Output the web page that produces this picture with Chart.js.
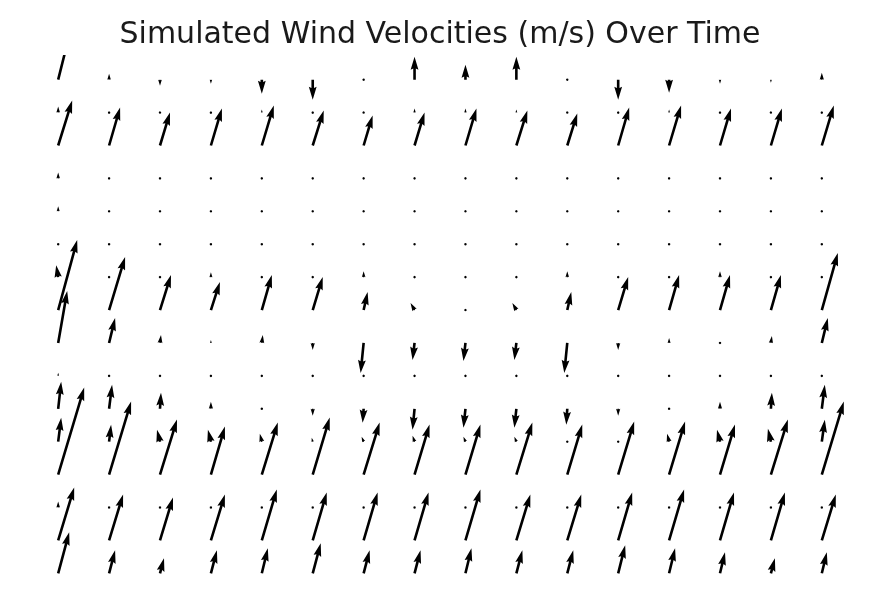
<!DOCTYPE html>
<html>
<head>
<meta charset="utf-8">
<title>Simulated Wind Velocities</title>
<script src="https://cdn.jsdelivr.net/npm/chart.js@4.4.1/dist/chart.umd.min.js"></script>
<style>
  html, body { margin: 0; padding: 0; background: #fff; }
</style>
</head>
<body>
<canvas id="windChart" width="887" height="608"></canvas>
<script>
// grid positions (16 x 16); rows listed top to bottom
const xPositions = [0, 1, 2, 3, 4, 5, 6, 7, 8, 9, 10, 11, 12, 13, 14, 15];
const yPositions = [15, 14, 13, 12, 11, 10, 9, 8, 7, 6, 5, 4, 3, 2, 1, 0];

// wind components in m/s, one row per y position
const windU = [
  [1.0, 0, 0, 0, 0, 0, 0.1, 0, 0, 0, 0.1, 0, 0, 0, 0, 0],
  [0, 0, -0.2, 0, 0, 0, -0.2, 0, 0, 0, -0.2, 0, 0, 0, -0.2, 0],
  [1.4, 1.1, 1.0, 1.1, 1.2, 1.1, 0.9, 1.0, 1.1, 1.1, 1.0, 1.1, 1.2, 1.1, 1.1, 1.2],
  [0, 0, 0, 0, 0, 0, 0, 0, 0, 0, 0, 0, 0, 0, 0, 0],
  [0, 0, 0, 0, 0, 0, 0, 0, 0, 0, 0, 0, 0, 0, 0, 0],
  [0, 0, 0, 0, 0, 0, 0, 0, 0, 0, 0, 0, 0, 0, 0, 0],
  [-0.2, 0, 0, 0, 0, 0, 0, 0, 0, 0, 0, 0, 0, 0, 0, 0],
  [1.9, 1.6, 1.1, 0.9, 1.0, 1.0, 0.4, -0.4, 0, -0.4, 0.4, 1.0, 1.0, 1.0, 1.0, 1.6],
  [0.9, 0.6, 0.1, 0, 0.1, 0, -0.3, -0.2, -0.2, -0.2, -0.3, 0, 0, 0, 0.1, 0.6],
  [0, 0, 0, 0, 0, 0, 0, 0, 0, 0, 0, 0, 0, 0, 0, 0],
  [0.3, 0.3, 0.1, 0, 0, 0, -0.1, -0.2, -0.2, -0.2, -0.1, 0, 0, 0, 0.1, 0.3],
  [0.3, 0.2, -0.3, -0.3, -0.2, -0.1, -0.2, -0.2, -0.2, -0.2, 0, 0, -0.2, -0.3, -0.3, 0.3],
  [2.6, 2.2, 1.7, 1.4, 1.6, 1.7, 1.6, 1.5, 1.5, 1.6, 1.5, 1.6, 1.6, 1.5, 1.7, 2.2],
  [0, 0, 0, 0, 0, 0, 0, 0, 0, 0, 0, 0, 0, 0, 0, 0],
  [1.6, 1.4, 1.3, 1.4, 1.5, 1.4, 1.4, 1.4, 1.5, 1.4, 1.4, 1.4, 1.5, 1.4, 1.4, 1.4],
  [1.1, 0.6, 0.4, 0.6, 0.6, 0.8, 0.6, 0.6, 0.6, 0.6, 0.6, 0.7, 0.6, 0.5, 0.4, 0.5]
];

const windV = [
  [4.0, 0.6, -0.6, -0.4, -1.4, -2.0, 0.1, 2.3, 1.5, 2.3, 0.1, -2.0, -1.3, -0.4, -0.3, 0.7],
  [0.6, 0.2, 0.05, 0.2, 0.3, 0.2, 0.05, 0.4, 0.4, 0.3, 0.05, 0.2, 0.3, 0.2, 0.05, 0.2],
  [4.5, 3.8, 3.3, 3.7, 4.0, 3.5, 3.0, 3.3, 3.7, 3.5, 3.2, 3.8, 4.0, 3.7, 3.7, 4.0],
  [0.6, 0.2, 0.15, 0.15, 0.15, 0.15, 0.15, 0.15, 0.15, 0.15, 0.15, 0.15, 0.15, 0.15, 0.15, 0.2],
  [0.5, 0.2, 0.15, 0.2, 0.2, 0.15, 0.15, 0.2, 0.15, 0.15, 0.15, 0.15, 0.15, 0.15, 0.15, 0.15],
  [0.15, 0.15, 0.15, 0.15, 0.15, 0.15, 0.15, 0.15, 0.15, 0.15, 0.15, 0.15, 0.15, 0.15, 0.15, 0.15],
  [1.2, 0.15, 0.2, 0.5, 0.15, 0.15, 0.6, 0.15, 0.15, 0.15, 0.6, 0.15, 0.15, 0.6, 0.15, 0.15],
  [7.0, 5.3, 3.5, 2.8, 3.5, 3.3, 1.8, 0.7, 0.2, 0.7, 1.8, 3.3, 3.5, 3.5, 3.5, 5.7],
  [5.2, 2.5, 0.8, 0.3, 0.8, -0.7, -3.0, -1.7, -1.8, -1.7, -3.0, -0.7, 0.5, 0.2, 0.7, 2.5],
  [0.3, 0.15, 0.15, 0.15, 0.15, 0.15, 0.15, 0.15, 0.15, 0.15, 0.15, 0.15, 0.15, 0.15, 0.15, 0.15],
  [2.7, 2.4, 1.6, 0.7, 0.15, -0.7, -1.4, -2.1, -1.9, -1.9, -1.6, -0.7, 0.15, 0.7, 1.6, 2.4],
  [2.4, 1.7, 1.2, 1.2, 0.8, 0.4, 0.5, 0.6, 0.5, 0.5, 0.2, 0.2, 0.8, 1.2, 1.3, 2.2],
  [8.7, 7.3, 5.5, 4.8, 5.2, 5.7, 5.2, 5.0, 5.0, 5.2, 5.0, 5.3, 5.3, 5.0, 5.5, 7.3],
  [0.6, 0.15, 0.15, 0.15, 0.15, 0.15, 0.15, 0.15, 0.15, 0.15, 0.15, 0.15, 0.15, 0.15, 0.15, 0.15],
  [5.3, 4.6, 4.3, 4.6, 5.1, 4.8, 4.8, 4.8, 5.1, 4.6, 4.6, 4.8, 5.1, 4.8, 4.8, 4.6],
  [4.1, 2.3, 1.5, 2.3, 2.5, 3.0, 2.3, 2.3, 2.5, 2.3, 2.3, 2.8, 2.5, 2.1, 1.5, 2.1]
];

// arrow look (like matplotlib quiver defaults)
const PX_PER_MS = 10;
const SHAFT_W = 2.6;
const HEAD_W = 3, HEAD_L = 5, HEAD_AXIS_L = 4.5;

const points = [];
yPositions.forEach((yv, r) => {
  xPositions.forEach((xv, c) => {
    points.push({ x: xv, y: yv, u: windU[r][c], v: windV[r][c] });
  });
});

function drawArrow(ctx, x0, y0, dx, dy) {
  const len = Math.hypot(dx, dy) / SHAFT_W;
  let pts;
  if (len < 1) {
    pts = [];
    for (let k = 0; k < 7; k++) {
      const th = k * Math.PI / 3;
      pts.push([Math.cos(th) * 0.5, Math.sin(th) * 0.5]);
    }
  } else if (len < HEAD_L) {
    const s = len / HEAD_L;
    pts = [[0, 0.5], [HEAD_L - HEAD_AXIS_L, 0.5], [0, HEAD_W / 2], [HEAD_L, 0],
           [0, -HEAD_W / 2], [HEAD_L - HEAD_AXIS_L, -0.5], [0, -0.5]]
      .map(p => [p[0] * s, p[1] * s]);
  } else {
    pts = [[0, 0.5], [len - HEAD_AXIS_L, 0.5], [len - HEAD_L, HEAD_W / 2], [len, 0],
           [len - HEAD_L, -HEAD_W / 2], [len - HEAD_AXIS_L, -0.5], [0, -0.5]];
  }
  const a = Math.atan2(dy, dx);
  const ca = Math.cos(a), sa = Math.sin(a);
  ctx.beginPath();
  pts.forEach((p, i) => {
    const px = x0 + (p[0] * ca - p[1] * sa) * SHAFT_W;
    const py = y0 + (p[0] * sa + p[1] * ca) * SHAFT_W;
    if (i === 0) ctx.moveTo(px, py); else ctx.lineTo(px, py);
  });
  ctx.closePath();
  ctx.fill();
}

const quiverPlugin = {
  id: 'quiver',
  afterDatasetsDraw(chart) {
    const { ctx, chartArea } = chart;
    const xs = chart.scales.x, ys = chart.scales.y;
    ctx.save();
    ctx.beginPath();
    ctx.rect(chartArea.left, chartArea.top, chartArea.right - chartArea.left, chartArea.bottom - chartArea.top);
    ctx.clip();
    ctx.fillStyle = '#000';
    chart.data.datasets[0].data.forEach(p => {
      const x0 = xs.getPixelForValue(p.x);
      const y0 = ys.getPixelForValue(p.y);
      drawArrow(ctx, x0, y0, p.u * PX_PER_MS, -p.v * PX_PER_MS);
    });
    ctx.restore();
  }
};

new Chart(document.getElementById('windChart'), {
  type: 'scatter',
  data: {
    datasets: [{
      data: points,
      pointRadius: 0,
      pointHoverRadius: 0
    }]
  },
  options: {
    responsive: false,
    animation: false,
    layout: { padding: { left: 20, right: 27, top: 0, bottom: 10 } },
    scales: {
      x: { type: 'linear', min: -0.75, max: 15.75, display: false },
      y: { type: 'linear', min: -0.75, max: 15.75, display: false }
    },
    plugins: {
      legend: { display: false },
      tooltip: { enabled: false },
      title: {
        display: true,
        text: 'Simulated Wind Velocities (m/s) Over Time',
        color: '#1a1a1a',
        font: { family: 'DejaVu Sans', size: 30, weight: 'normal' },
        padding: { top: 17, bottom: 2 }
      }
    }
  },
  plugins: [quiverPlugin]
});
</script>
</body>
</html>
